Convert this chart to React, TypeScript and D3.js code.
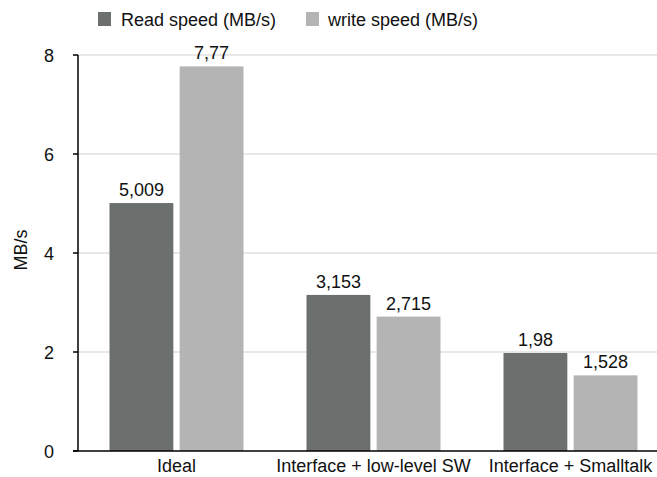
import React from "react";
import * as d3 from "d3";

const categories = ["Ideal", "Interface + low-level SW", "Interface + Smalltalk"];
const seriesNames = ["Read speed (MB/s)", "write speed (MB/s)"];
const readSpeed = [5.009, 3.153, 1.98];
const writeSpeed = [7.77, 2.715, 1.528];
const readLabels = ["5,009", "3,153", "1,98"];
const writeLabels = ["7,77", "2,715", "1,528"];
const yTicks = [0, 2, 4, 6, 8];
const colors = ["#6b706f", "#b4b4b4"];

const W = 657;
const H = 477;
const left = 78;
const top = 55;
const bottom = 451;

export default function App() {
  const x = d3.scaleBand<string>().domain(categories).range([left, left + 591]).paddingInner(0).paddingOuter(0);
  const y = d3.scaleLinear().domain([0, 8]).range([bottom, top]);
  const inner = d3.scaleBand<string>().domain(seriesNames).range([31.5, 197 - 31.5]).paddingInner(0.09);
  const series = [
    { name: seriesNames[0], values: readSpeed, labels: readLabels, color: colors[0] },
    { name: seriesNames[1], values: writeSpeed, labels: writeLabels, color: colors[1] },
  ];
  const font = "'Liberation Sans', Arial, Helvetica, sans-serif";
  return (
    <svg width={W} height={H} style={{ position: "absolute", left: 0, top: 0 }} fontFamily={font}>
      <rect width={W} height={H} fill="#fff" />
      {yTicks.filter((t) => t > 0).map((t) => (
        <line key={t} x1={left} x2={W} y1={y(t)} y2={y(t)} stroke="#d2d2d2" strokeWidth={1.2} />
      ))}
      {series.map((s) =>
        categories.map((c, i) => (
          <g key={s.name + c}>
            <rect
              x={(x(c) as number) + (inner(s.name) as number)}
              y={y(s.values[i])}
              width={inner.bandwidth()}
              height={bottom - y(s.values[i])}
              fill={s.color}
            />
            <text
              x={(x(c) as number) + (inner(s.name) as number) + inner.bandwidth() / 2}
              y={y(s.values[i]) - 7}
              textAnchor="middle"
              fontSize={18}
              fill="#111"
            >
              {s.labels[i]}
            </text>
          </g>
        ))
      )}
      <line x1={left} x2={left} y1={top} y2={bottom} stroke="#000" strokeWidth={1.5} />
      <line x1={left - 5} x2={W} y1={bottom} y2={bottom} stroke="#000" strokeWidth={1.5} />
      {yTicks.map((t) => (
        <g key={t}>
          <line x1={left - 5} x2={left} y1={y(t)} y2={y(t)} stroke="#000" strokeWidth={1.5} />
          <text x={54} y={y(t) + 6.5} textAnchor="end" fontSize={18} fill="#111">
            {t}
          </text>
        </g>
      ))}
      {categories.map((c) => (
        <text key={c} x={(x(c) as number) + 98.5} y={472} textAnchor="middle" fontSize={18} fill="#111">
          {c}
        </text>
      ))}
      <text transform={`translate(27,250) rotate(-90)`} textAnchor="middle" fontSize={18} fill="#111">
        MB/s
      </text>
      <g>
        <rect x={98} y={12} width={13} height={14} fill={colors[0]} />
        <text x={121} y={26} fontSize={18} fill="#111">{seriesNames[0]}</text>
        <rect x={306} y={12} width={13} height={14} fill={colors[1]} />
        <text x={328} y={26} fontSize={18} fill="#111">{seriesNames[1]}</text>
      </g>
    </svg>
  );
}
